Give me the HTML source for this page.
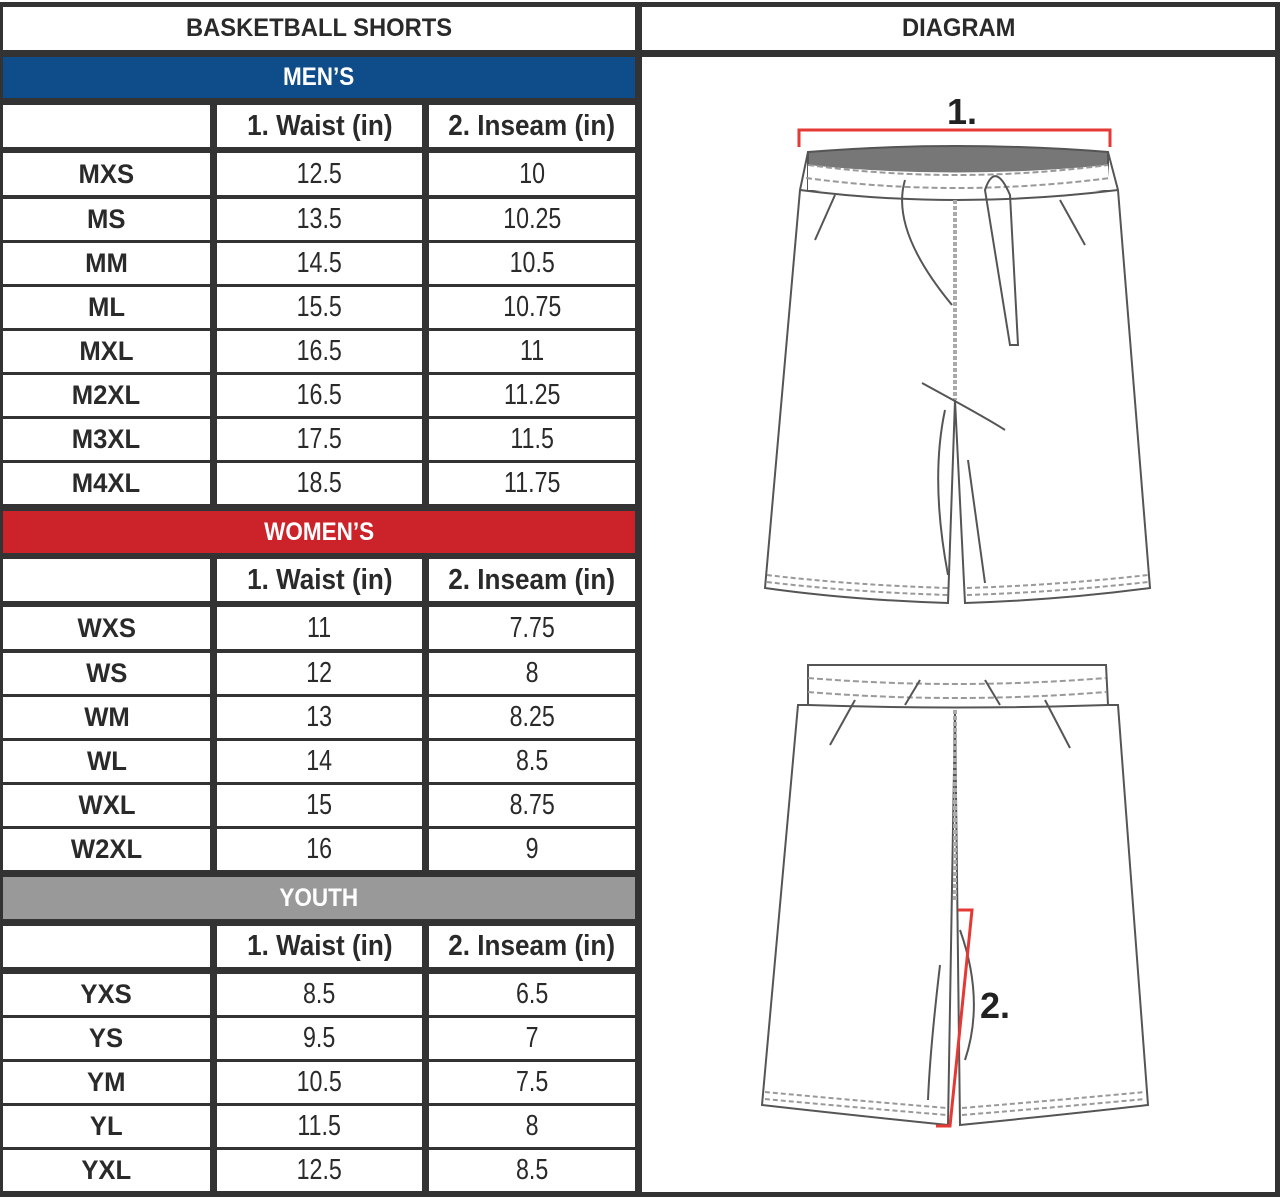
<!DOCTYPE html>
<html><head><meta charset="utf-8"><style>
body{margin:0;width:1280px;height:1199px;background:#fff;position:relative;overflow:hidden;font-family:"Liberation Sans",sans-serif;}
#bg{position:absolute;left:0;top:0;width:1280px;height:1199px;background:#fff}
#dark{position:absolute;left:0;top:2px;width:1280px;height:1195px;background:#333}
.c{position:absolute;background:#fff;display:flex;align-items:center;justify-content:center;color:#2a2a2a;font-size:29px;}
.c span{display:inline-block;transform:scaleX(0.8);white-space:nowrap}
.b{font-weight:bold;font-size:27px;}
.b span{transform:scaleX(0.95)}
.h{font-weight:bold;font-size:29px;}
.h span{transform:scaleX(0.9)}
.t{color:#fff;font-weight:bold;font-size:25px;}
.t span{transform:scaleX(0.9)}
</style></head><body>
<div id="bg"></div><div id="dark"></div>
<div class="c b" style="left:3px;top:7px;width:632px;height:43px;font-size:25px"><span>BASKETBALL SHORTS</span></div>
<div class="c b" style="left:642px;top:7px;width:633px;height:43px;font-size:25px"><span>DIAGRAM</span></div>
<div class="c" style="left:642px;top:57px;width:633px;height:1135px"></div>

<div class="c t" style="left:3px;top:57px;width:632px;height:41px;background:#0e4c8a"><span>MEN’S</span></div>
<div class="c t" style="left:3px;top:511px;width:632px;height:42px;background:#cc2229"><span>WOMEN’S</span></div>
<div class="c t" style="left:3px;top:877px;width:632px;height:42px;background:#999"><span>YOUTH</span></div>

<div id="rows"></div>
<script>
var R=document.getElementById('rows'),h='';
function row(y,hh,a,b,c,hdr){
 h+='<div class="c b" style="left:3px;top:'+y+'px;width:207px;height:'+hh+'px"><span>'+a+'</span></div>';
 h+='<div class="c'+(hdr?' h':'')+'" style="left:217px;top:'+y+'px;width:205px;height:'+hh+'px"><span>'+b+'</span></div>';
 h+='<div class="c'+(hdr?' h':'')+'" style="left:429px;top:'+y+'px;width:206px;height:'+hh+'px"><span>'+c+'</span></div>';
}
row(105,42,'','1. Waist (in)','2. Inseam (in)',1);
var m=[['MXS','12.5','10'],['MS','13.5','10.25'],['MM','14.5','10.5'],['ML','15.5','10.75'],['MXL','16.5','11'],['M2XL','16.5','11.25'],['M3XL','17.5','11.5'],['M4XL','18.5','11.75']];
var y=153;m.forEach(function(r,i){row(y,i==0?42:41,r[0],r[1],r[2]);y+=(i==0?46:44);});
row(559,42,'','1. Waist (in)','2. Inseam (in)',1);
var w=[['WXS','11','7.75'],['WS','12','8'],['WM','13','8.25'],['WL','14','8.5'],['WXL','15','8.75'],['W2XL','16','9']];
y=607;w.forEach(function(r,i){row(y,i==0?42:41,r[0],r[1],r[2]);y+=(i==0?46:44);});
row(926,41,'','1. Waist (in)','2. Inseam (in)',1);
var yy=[['YXS','8.5','6.5'],['YS','9.5','7'],['YM','10.5','7.5'],['YL','11.5','8'],['YXL','12.5','8.5']];
y=974;yy.forEach(function(r,i){row(y,41,r[0],r[1],r[2]);y+=44;});
R.innerHTML=h;
</script>

<svg style="position:absolute;left:0;top:0" width="1280" height="1199" fill="none" stroke="#555" stroke-width="2">
<text x="962" y="124" font-family="Liberation Sans,sans-serif" font-weight="bold" font-size="36" fill="#222" stroke="none" text-anchor="middle">1.</text>
<path d="M799 147 V130 H1110 V147" stroke="#e53935" stroke-width="3"/>
<path d="M808 152 Q955 140 1108 152 L1108 190 Q955 178 808 190 Z" fill="#777"/>
<path d="M808 165 Q955 180 1108 165 L1110 190 L808 190 Z" fill="#fff" stroke="none"/>
<path d="M808 152 L800 190 L765 588 Q850 600 948 603 L955 400 L965 603 Q1060 600 1150 588 L1118 190 L1108 152"/>
<path d="M800 190 Q955 210 1118 190" />
<path d="M808 165 Q955 185 1108 165 M806 178 Q955 198 1110 178" stroke="#999" stroke-dasharray="6 3"/>
<path d="M955 200 V400" stroke="#aaa" stroke-width="4" stroke-dasharray="4 2"/>
<path d="M767 575 Q850 585 948 588 M767 582 Q850 592 948 595 M967 588 Q1060 585 1148 575 M967 595 Q1060 592 1148 582" stroke="#999" stroke-dasharray="5 3"/>
<path d="M905 180 Q890 230 952 305 M985 190 Q995 160 1010 195 L1018 345 L1010 345 Z M922 383 Q990 420 1005 430 M945 410 Q930 480 948 575 M968 460 L985 583 M815 240 L835 195 M1085 245 L1060 200"/>
<path d="M808 665 L1106 665 L1108 705 L1118 705 L1148 1105 Q1060 1115 960 1125 L955 710 L948 1125 Q850 1115 762 1105 L798 705 L808 705 Z"/>
<path d="M808 705 Q955 710 1108 705"/>
<path d="M808 678 Q955 690 1106 678 M808 692 Q955 704 1106 692" stroke="#999" stroke-dasharray="6 3"/>
<path d="M955 710 V900" stroke="#aaa" stroke-width="4" stroke-dasharray="4 2"/>
<path d="M765 1092 Q850 1100 947 1108 M765 1099 Q850 1107 947 1115 M962 1108 Q1060 1100 1145 1092 M962 1115 Q1060 1107 1145 1099" stroke="#999" stroke-dasharray="5 3"/>
<path d="M940 965 Q930 1050 928 1100 M960 930 Q985 1000 965 1060 M830 745 L855 700 M1070 748 L1045 700 M905 705 L920 680 M1000 705 L985 680"/>
<path d="M958 910 H972 L950 1126 H936" stroke="#e53935" stroke-width="3"/>
<text x="995" y="1018" font-family="Liberation Sans,sans-serif" font-weight="bold" font-size="36" fill="#222" stroke="none" text-anchor="middle">2.</text>
</svg>
</body></html>
